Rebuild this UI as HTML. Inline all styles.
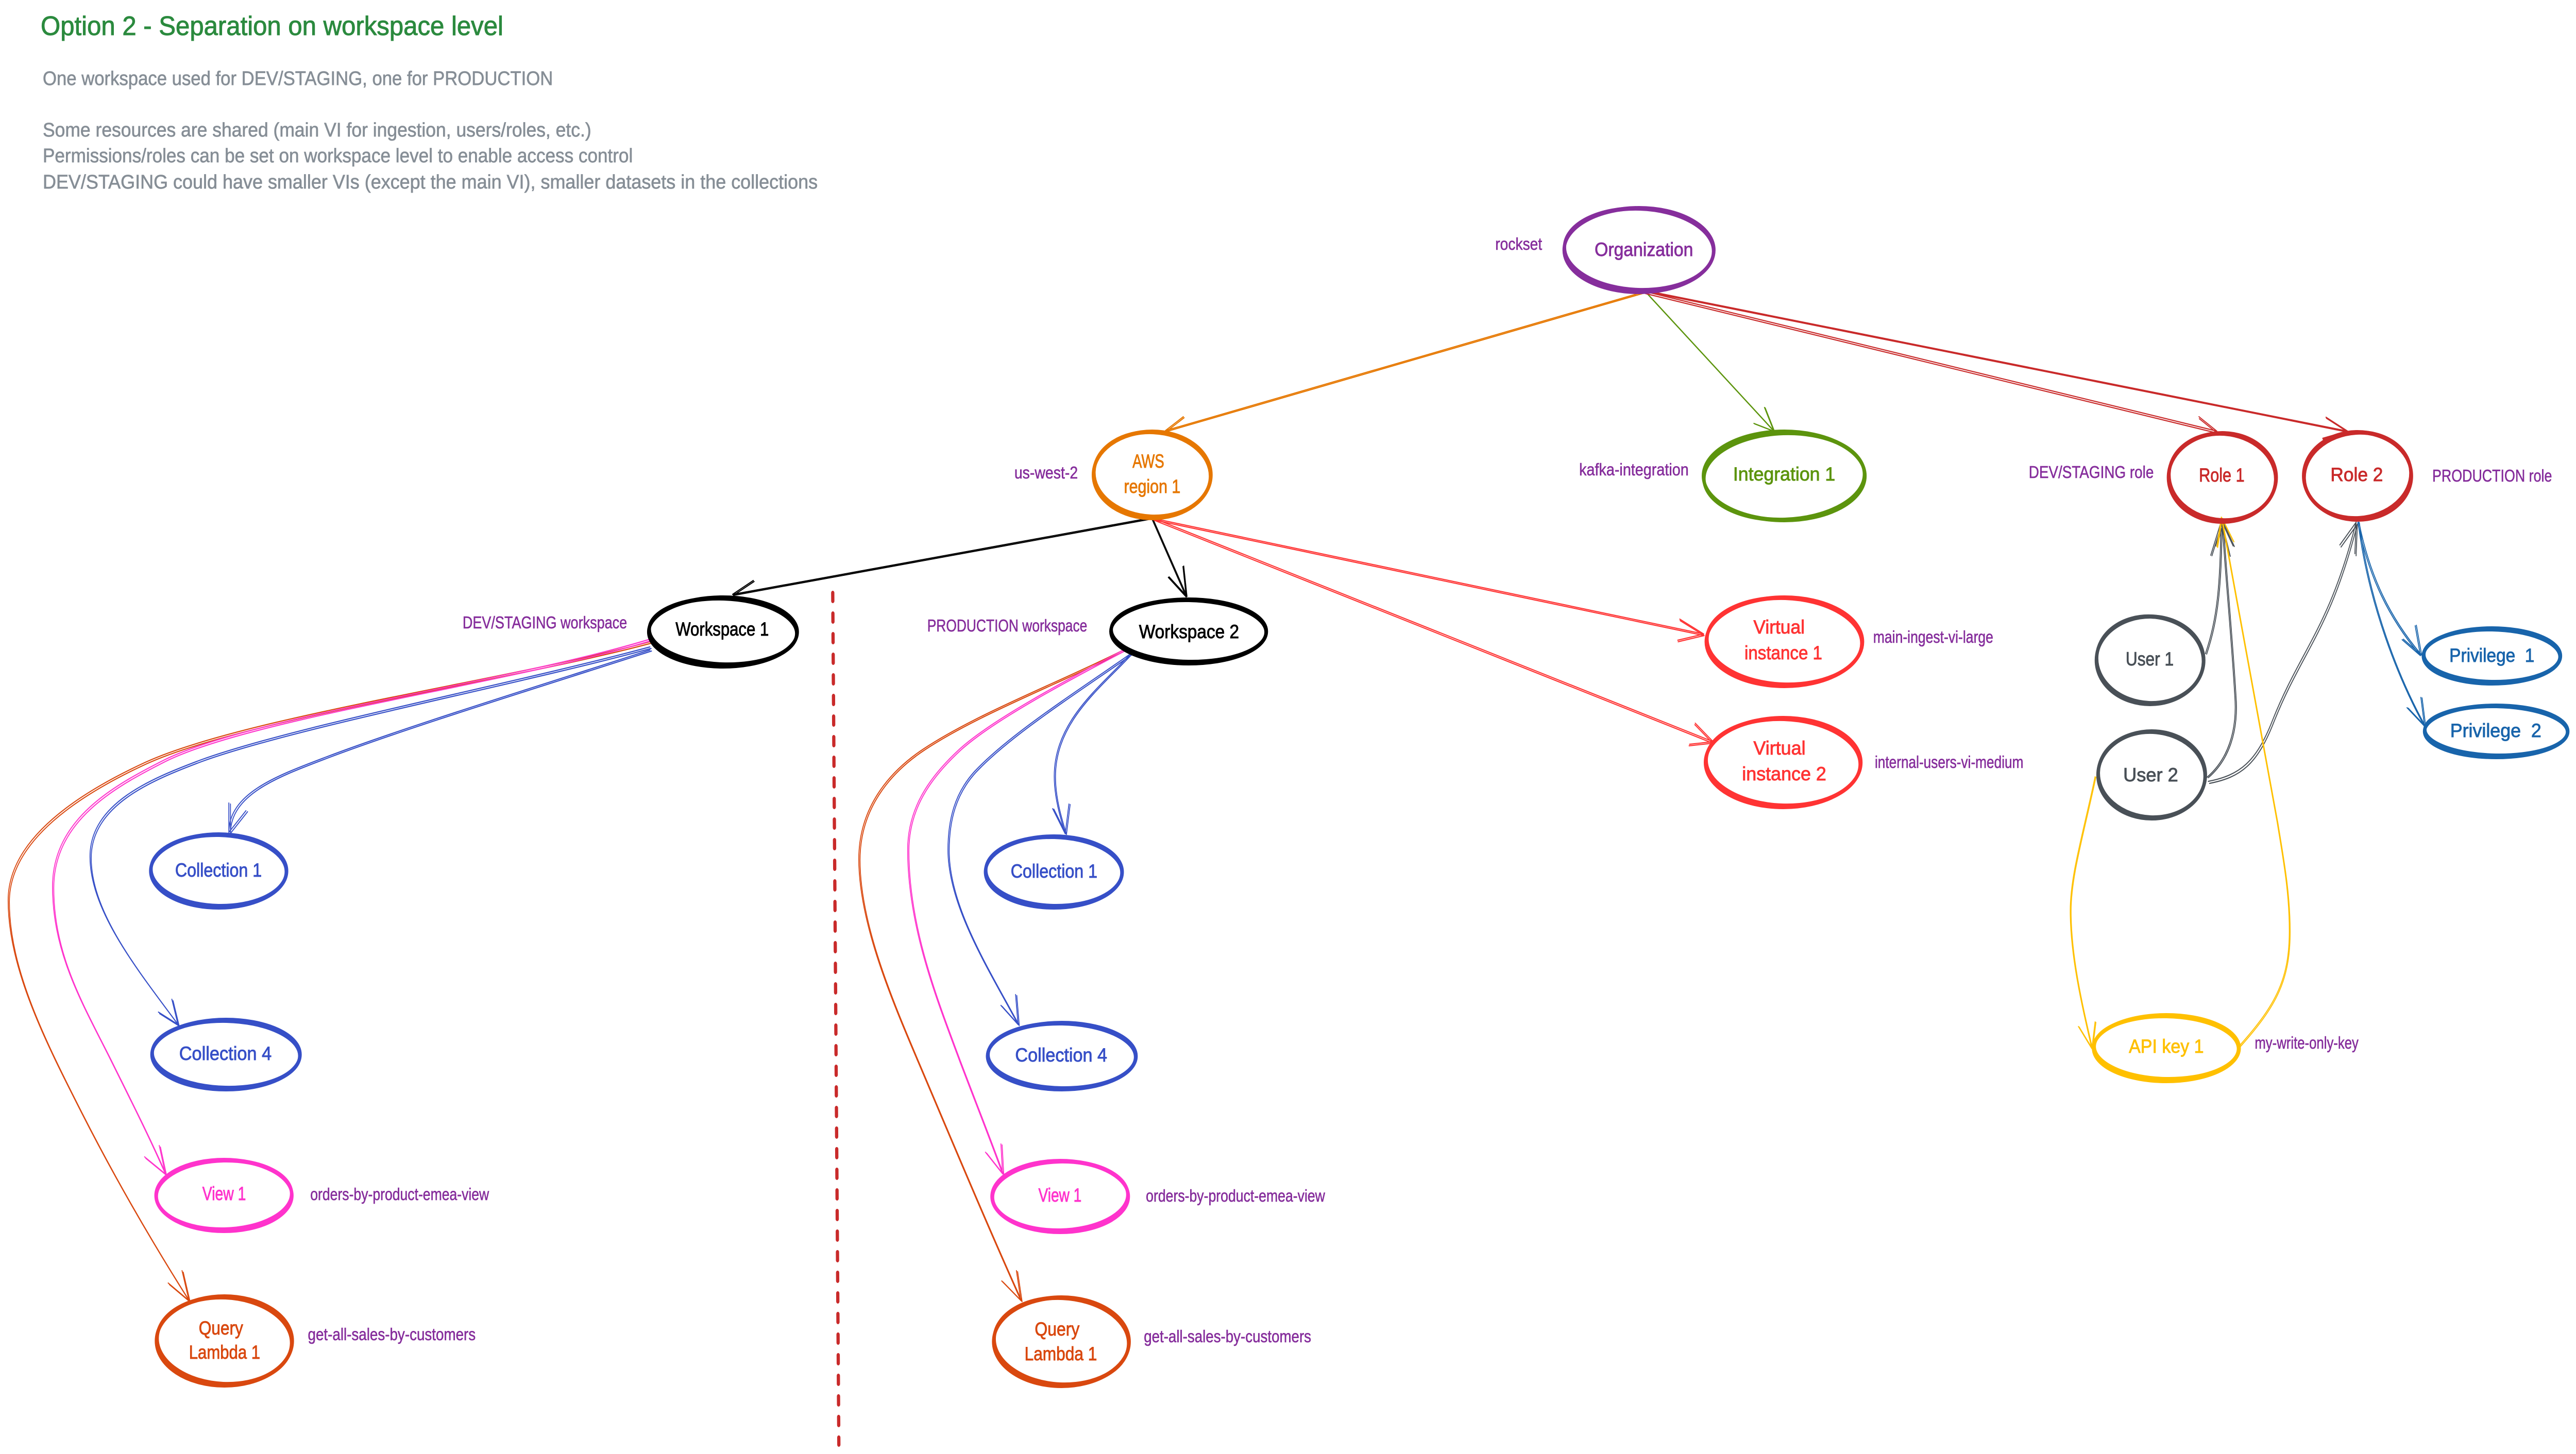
<!DOCTYPE html>
<html lang="en">
<head>
<meta charset="utf-8">
<title>Option 2 - Separation on workspace level</title>
<style>
html,body{margin:0;padding:0;background:#fff}
svg{display:block;width:100vw;height:100vh}
text{font-family:"Liberation Sans","DejaVu Sans",sans-serif}
.n{font-size:37px;fill:currentColor;stroke:currentColor;stroke-width:.9}
.p{font-size:33px;fill:#862e9c;stroke:#862e9c;stroke-width:.6}
.t{font-size:38px;fill:#868e96;stroke:#868e96;stroke-width:.7}
.l path{fill:none;stroke-width:2.2;stroke-linecap:round;stroke-linejoin:round}
.l use{fill:none;stroke-width:2.2;stroke-linecap:round}
.e{fill:none;stroke-width:8}
</style>
</head>
<body>
<svg xmlns="http://www.w3.org/2000/svg" viewBox="0 0 6326 2823" preserveAspectRatio="none">
<rect width="6326" height="2823" fill="#fff"/>

<!-- heading -->
<text x="100" y="68" font-size="52" fill="#2b8a3e" stroke="#2b8a3e" stroke-width="1" textLength="1136" lengthAdjust="spacingAndGlyphs">Option 2 - Separation on workspace level</text>
<text class="t" x="105" y="165" textLength="1253" lengthAdjust="spacingAndGlyphs">One workspace used for DEV/STAGING, one for PRODUCTION</text>
<text class="t" x="105" y="265" textLength="1347" lengthAdjust="spacingAndGlyphs">Some resources are shared (main VI for ingestion, users/roles, etc.)</text>
<text class="t" x="105" y="315" textLength="1449" lengthAdjust="spacingAndGlyphs">Permissions/roles can be set on workspace level to enable access control</text>
<text class="t" x="105" y="366" textLength="1903" lengthAdjust="spacingAndGlyphs">DEV/STAGING could have smaller VIs (except the main VI), smaller datasets in the collections</text>

<!-- dashed separator -->
<path d="M2045 1151 L2060 2805" fill="none" stroke="#c92a2a" stroke-width="8" stroke-linecap="round" stroke-dasharray="16 24"/>

<!-- connectors -->
<g class="l" stroke="#e67700">
<path id="a1" d="M4040 566 L2862 836 M2862 836 L2906 809"/>
<use href="#a1" x="2" y="2"/>
</g>
<g class="l" stroke="#5c940d">
<path id="a2" d="M4040 566 L4356 837 M4356 837 L4333 791 M4356 837 L4307 822"/>
<use href="#a2" x="2" y="1"/>
</g>
<g class="l" stroke="#c92a2a">
<path id="a3" d="M4040 566 L5444 837 M5444 837 L5400 809"/>
<use href="#a3" x="1" y="4"/>
<path id="a4" d="M4040 564 L5765 837 M5765 837 L5712 810 M5765 837 L5704 851"/>
<use href="#a4" x="1" y="2"/>
</g>
<g class="l" stroke="#000">
<path id="a5" d="M2830 1005 L1799 1154 M1799 1154 L1850 1127"/>
<use href="#a5" x="2" y="2"/>
<path id="a6" d="M2830 1005 L2915 1158 M2915 1158 L2907 1099 M2915 1158 L2871 1120"/>
<use href="#a6" x="-2" y="1"/>
</g>
<g class="l" stroke="#ff3333">
<path id="a7" d="M2835 1007 L4184 1231 M4184 1231 L4125 1202 M4184 1231 L4120 1243"/>
<use href="#a7" x="1" y="3"/>
<path id="a8" d="M2835 1007 L4207 1440 M4207 1440 L4163 1404 M4207 1440 L4149 1445"/>
<use href="#a8" x="-1" y="3"/>
</g>

<!-- workspace 1 children -->
<g class="l" stroke="#d9480f">
<path id="b1" d="M1600 1245 C1250 1320 600 1392 357 1480 C220 1530 20 1620 20 1748 C20 1880 110 2020 200 2160 C290 2300 380 2420 464 2525 M464 2525 L447 2467 M464 2525 L413 2491"/>
<use href="#b1" x="3" y="3"/>
</g>
<g class="l" stroke="#ff33cc">
<path id="b2" d="M1600 1240 C1250 1325 620 1390 402 1476 C280 1525 129 1590 129 1721 C129 1850 200 1945 268 2052 C320 2135 365 2205 406 2279 M406 2279 L391 2224 M406 2279 L355 2246"/>
<use href="#b2" x="3" y="3"/>
</g>
<g class="l" stroke="#364fc7">
<path id="b3" d="M1596 1256 C1250 1330 720 1410 491 1476 C370 1512 221 1560 221 1663 C221 1770 340 1885 437 1989 M437 1989 L422 1940 M437 1989 L389 1965"/>
<use href="#b3" x="3" y="3"/>
<path id="b4" d="M1596 1262 C1350 1325 1000 1410 800 1470 C680 1506 562 1540 562 1616 M562 1616 L562 1559 M562 1616 L604 1574"/>
<use href="#b4" x="4" y="2"/>
</g>

<!-- workspace 2 children -->
<g class="l" stroke="#d9480f">
<path id="c1" d="M2759 1262 C2600 1325 2400 1385 2268 1454 C2180 1500 2109 1570 2109 1668 C2109 1800 2200 1960 2268 2087 C2350 2240 2430 2390 2507 2525 M2507 2525 L2496 2467 M2507 2525 L2460 2487"/>
<use href="#c1" x="3" y="2"/>
</g>
<g class="l" stroke="#ff33cc">
<path id="c2" d="M2759 1262 C2620 1320 2440 1395 2357 1454 C2280 1510 2229 1570 2229 1650 C2229 1800 2300 1940 2357 2061 C2395 2140 2430 2210 2462 2279 M2462 2279 L2458 2221 M2462 2279 L2420 2237"/>
<use href="#c2" x="3" y="2"/>
</g>
<g class="l" stroke="#364fc7">
<path id="c3" d="M2777 1269 C2640 1345 2480 1425 2393 1498 C2345 1540 2328 1590 2328 1650 C2328 1760 2430 1885 2500 1989 M2500 1989 L2494 1931 M2500 1989 L2458 1952"/>
<use href="#c3" x="3" y="2"/>
<path id="c4" d="M2777 1269 C2700 1335 2589 1400 2589 1507 C2589 1550 2605 1590 2616 1619 M2616 1619 L2625 1561 M2616 1619 L2585 1570"/>
<use href="#c4" x="3" y="1"/>
</g>

<!-- users / roles -->
<g class="l" stroke="#495057">
<path id="d1" d="M5416 1269 C5445 1200 5452 1140 5454 1014 M5454 1014 L5429 1078 M5454 1014 L5474 1079"/>
<use href="#d1" x="3" y="1"/>
<path id="d2" d="M5420 1509 C5470 1475 5495 1420 5488 1350 C5480 1240 5465 1120 5457 1014 M5457 1014 L5441 1060 M5457 1014 L5484 1060"/>
<use href="#d2" x="3" y="1"/>
<path id="d3" d="M5423 1517 C5500 1505 5540 1480 5580 1400 C5650 1260 5720 1220 5786 1014 M5786 1014 L5746 1058 M5786 1014 L5783 1075"/>
<use href="#d3" x="3" y="4"/>
</g>
<g class="l" stroke="#ffc000">
<path id="d4" d="M5501 2029 C5590 1950 5622 1900 5622 1807 C5622 1730 5606 1665 5592 1596 L5455 1004 M5455 1004 L5444 1061 M5455 1004 L5484 1050"/>
<use href="#d4" x="2" y="2"/>
<path id="d5" d="M5145 1508 C5115 1620 5084 1700 5084 1768 C5084 1860 5115 1960 5137 2036 M5137 2036 L5145 1984 M5137 2036 L5104 1993"/>
<use href="#d5" x="2" y="1"/>
</g>
<g class="l" stroke="#1864ab">
<path id="d6" d="M5793 1014 C5820 1120 5870 1200 5947 1272 M5947 1272 L5934 1214 M5947 1272 L5902 1241"/>
<use href="#d6" x="-3" y="1"/>
<path id="d7" d="M5791 1014 C5815 1170 5890 1320 5954 1410 M5954 1410 L5945 1354 M5954 1410 L5911 1374"/>
<use href="#d7" x="3" y="1"/>
</g>

<!-- nodes -->
<g class="e" stroke="#862e9c"><ellipse cx="4025" cy="485.5" rx="184" ry="81.5"/><ellipse cx="4025" cy="484" rx="183" ry="79" transform="rotate(1.5 4025 484)"/></g>
<g class="e" stroke="#e67700"><ellipse cx="2829.5" cy="922" rx="144.5" ry="84"/><ellipse cx="2829.5" cy="921" rx="143" ry="82" transform="rotate(2 2829 921)"/></g>
<g class="e" stroke="#5c940d"><ellipse cx="4381.5" cy="924" rx="198.5" ry="86"/><ellipse cx="4381.5" cy="925" rx="197" ry="84" transform="rotate(-1.5 4381 925)"/></g>
<g class="e" stroke="#c92a2a"><ellipse cx="5457.5" cy="927" rx="132.5" ry="86"/><ellipse cx="5457.5" cy="926" rx="131" ry="84" transform="rotate(3 5457 926)"/></g>
<g class="e" stroke="#c92a2a"><ellipse cx="5789.5" cy="924" rx="132.5" ry="85"/><ellipse cx="5789.5" cy="923" rx="131" ry="83" transform="rotate(-3 5789 923)"/></g>
<g class="e" stroke="#000"><ellipse cx="1775.5" cy="1227" rx="182.5" ry="67"/><ellipse cx="1775.5" cy="1226" rx="181" ry="64" transform="rotate(1.5 1775 1226)"/></g>
<g class="e" stroke="#000"><ellipse cx="2919" cy="1226" rx="191" ry="62"/><ellipse cx="2919" cy="1225" rx="190" ry="60" transform="rotate(0.8 2919 1225)"/></g>
<g class="e" stroke="#ff3333"><ellipse cx="4382" cy="1246" rx="192" ry="86"/><ellipse cx="4382" cy="1245" rx="190" ry="84" transform="rotate(1.5 4382 1245)"/></g>
<g class="e" stroke="#ff3333"><ellipse cx="4379" cy="1480.5" rx="191" ry="86.5"/><ellipse cx="4379" cy="1480" rx="189" ry="84" transform="rotate(1.5 4379 1480)"/></g>
<g class="e" stroke="#495057"><ellipse cx="5280" cy="1282" rx="132" ry="85"/><ellipse cx="5280" cy="1281" rx="131" ry="84" transform="rotate(2 5280 1281)"/></g>
<g class="e" stroke="#495057"><ellipse cx="5284" cy="1504.5" rx="132" ry="84.5"/><ellipse cx="5284" cy="1504" rx="131" ry="83" transform="rotate(2 5284 1504)"/></g>
<g class="e" stroke="#1864ab"><ellipse cx="6119.5" cy="1273.5" rx="168.5" ry="53.5"/><ellipse cx="6119.5" cy="1273" rx="167" ry="51" transform="rotate(0.8 6119 1273)"/></g>
<g class="e" stroke="#1864ab"><ellipse cx="6130" cy="1420" rx="176" ry="50"/><ellipse cx="6130" cy="1419" rx="175" ry="48" transform="rotate(0.8 6130 1419)"/></g>
<g class="e" stroke="#ffc000"><ellipse cx="5320" cy="2035" rx="179" ry="64"/><ellipse cx="5320" cy="2034" rx="177" ry="61" transform="rotate(0.8 5320 2034)"/></g>
<g class="e" stroke="#364fc7"><ellipse cx="537" cy="1691" rx="167" ry="71"/><ellipse cx="537" cy="1690" rx="166" ry="69" transform="rotate(1 537 1690)"/></g>
<g class="e" stroke="#364fc7"><ellipse cx="555" cy="2047.5" rx="182" ry="67.5"/><ellipse cx="555" cy="2047" rx="181" ry="65" transform="rotate(1 555 2047)"/></g>
<g class="e" stroke="#ff33cc"><ellipse cx="550" cy="2321" rx="167" ry="69"/><ellipse cx="550" cy="2320" rx="166" ry="67" transform="rotate(-1 550 2320)"/></g>
<g class="e" stroke="#d9480f"><ellipse cx="551" cy="2603.5" rx="167" ry="86.5"/><ellipse cx="551" cy="2603" rx="165" ry="84" transform="rotate(2 551 2603)"/></g>
<g class="e" stroke="#364fc7"><ellipse cx="2588" cy="1693" rx="168" ry="69"/><ellipse cx="2588" cy="1692" rx="167" ry="67" transform="rotate(1 2588 1692)"/></g>
<g class="e" stroke="#364fc7"><ellipse cx="2607.5" cy="2050.5" rx="182.5" ry="64.5"/><ellipse cx="2607.5" cy="2050" rx="181" ry="63" transform="rotate(0.8 2607 2050)"/></g>
<g class="e" stroke="#ff33cc"><ellipse cx="2603.5" cy="2323" rx="167.5" ry="69"/><ellipse cx="2603.5" cy="2322" rx="166" ry="67" transform="rotate(-1 2603 2322)"/></g>
<g class="e" stroke="#d9480f"><ellipse cx="2606.5" cy="2605" rx="166.5" ry="86"/><ellipse cx="2606.5" cy="2604" rx="165" ry="84" transform="rotate(2 2606 2604)"/></g>

<!-- node labels -->
<text class="n" color="#862e9c" x="3916" y="497" textLength="242" lengthAdjust="spacingAndGlyphs">Organization</text>
<text class="n" color="#e67700" x="2781" y="908" textLength="78" lengthAdjust="spacingAndGlyphs">AWS</text>
<text class="n" color="#e67700" x="2760" y="957" textLength="139" lengthAdjust="spacingAndGlyphs">region 1</text>
<text class="n" color="#5c940d" x="4256" y="933" textLength="251" lengthAdjust="spacingAndGlyphs">Integration 1</text>
<text class="n" color="#c92a2a" x="5400" y="935" textLength="112" lengthAdjust="spacingAndGlyphs">Role 1</text>
<text class="n" color="#c92a2a" x="5723" y="934" textLength="129" lengthAdjust="spacingAndGlyphs">Role 2</text>
<text class="n" color="#000" x="1659" y="1234" textLength="229" lengthAdjust="spacingAndGlyphs">Workspace 1</text>
<text class="n" color="#000" x="2797" y="1239" textLength="246" lengthAdjust="spacingAndGlyphs">Workspace 2</text>
<text class="n" color="#ff3333" x="4306" y="1230" textLength="126" lengthAdjust="spacingAndGlyphs">Virtual</text>
<text class="n" color="#ff3333" x="4284" y="1280" textLength="191" lengthAdjust="spacingAndGlyphs">instance 1</text>
<text class="n" color="#ff3333" x="4306" y="1465" textLength="128" lengthAdjust="spacingAndGlyphs">Virtual</text>
<text class="n" color="#ff3333" x="4278" y="1515" textLength="207" lengthAdjust="spacingAndGlyphs">instance 2</text>
<text class="n" color="#495057" x="5220" y="1292" textLength="118" lengthAdjust="spacingAndGlyphs">User 1</text>
<text class="n" color="#495057" x="5214" y="1517" textLength="135" lengthAdjust="spacingAndGlyphs">User 2</text>
<text class="n" color="#1864ab" x="6015" y="1285" textLength="209" lengthAdjust="spacingAndGlyphs" xml:space="preserve">Privilege  1</text>
<text class="n" color="#1864ab" x="6017" y="1431" textLength="224" lengthAdjust="spacingAndGlyphs" xml:space="preserve">Privilege  2</text>
<text class="n" color="#ffc000" x="5228" y="2044" textLength="184" lengthAdjust="spacingAndGlyphs">API key 1</text>
<text class="n" color="#364fc7" x="430" y="1702" textLength="213" lengthAdjust="spacingAndGlyphs">Collection 1</text>
<text class="n" color="#364fc7" x="440" y="2058" textLength="227" lengthAdjust="spacingAndGlyphs">Collection 4</text>
<text class="n" color="#ff33cc" x="497" y="2330" textLength="107" lengthAdjust="spacingAndGlyphs">View 1</text>
<text class="n" color="#d9480f" x="488" y="2591" textLength="109" lengthAdjust="spacingAndGlyphs">Query</text>
<text class="n" color="#d9480f" x="464" y="2638" textLength="175" lengthAdjust="spacingAndGlyphs">Lambda 1</text>
<text class="n" color="#364fc7" x="2482" y="1704" textLength="213" lengthAdjust="spacingAndGlyphs">Collection 1</text>
<text class="n" color="#364fc7" x="2493" y="2061" textLength="226" lengthAdjust="spacingAndGlyphs">Collection 4</text>
<text class="n" color="#ff33cc" x="2550" y="2333" textLength="106" lengthAdjust="spacingAndGlyphs">View 1</text>
<text class="n" color="#d9480f" x="2541" y="2593" textLength="110" lengthAdjust="spacingAndGlyphs">Query</text>
<text class="n" color="#d9480f" x="2516" y="2641" textLength="178" lengthAdjust="spacingAndGlyphs">Lambda 1</text>

<!-- annotations -->
<text class="p" x="3672" y="485" textLength="115" lengthAdjust="spacingAndGlyphs">rockset</text>
<text class="p" x="2491" y="929" textLength="156" lengthAdjust="spacingAndGlyphs">us-west-2</text>
<text class="p" x="3878" y="923" textLength="269" lengthAdjust="spacingAndGlyphs">kafka-integration</text>
<text class="p" x="4982" y="928" textLength="307" lengthAdjust="spacingAndGlyphs">DEV/STAGING role</text>
<text class="p" x="5973" y="935" textLength="294" lengthAdjust="spacingAndGlyphs">PRODUCTION role</text>
<text class="p" x="1136" y="1220" textLength="404" lengthAdjust="spacingAndGlyphs">DEV/STAGING workspace</text>
<text class="p" x="2277" y="1226" textLength="393" lengthAdjust="spacingAndGlyphs">PRODUCTION workspace</text>
<text class="p" x="4600" y="1248" textLength="295" lengthAdjust="spacingAndGlyphs">main-ingest-vi-large</text>
<text class="p" x="4604" y="1491" textLength="365" lengthAdjust="spacingAndGlyphs">internal-users-vi-medium</text>
<text class="p" x="5537" y="2036" textLength="255" lengthAdjust="spacingAndGlyphs">my-write-only-key</text>
<text class="p" x="762" y="2330" textLength="439" lengthAdjust="spacingAndGlyphs">orders-by-product-emea-view</text>
<text class="p" x="756" y="2602" textLength="412" lengthAdjust="spacingAndGlyphs">get-all-sales-by-customers</text>
<text class="p" x="2814" y="2333" textLength="440" lengthAdjust="spacingAndGlyphs">orders-by-product-emea-view</text>
<text class="p" x="2809" y="2606" textLength="411" lengthAdjust="spacingAndGlyphs">get-all-sales-by-customers</text>
</svg>
</body>
</html>
